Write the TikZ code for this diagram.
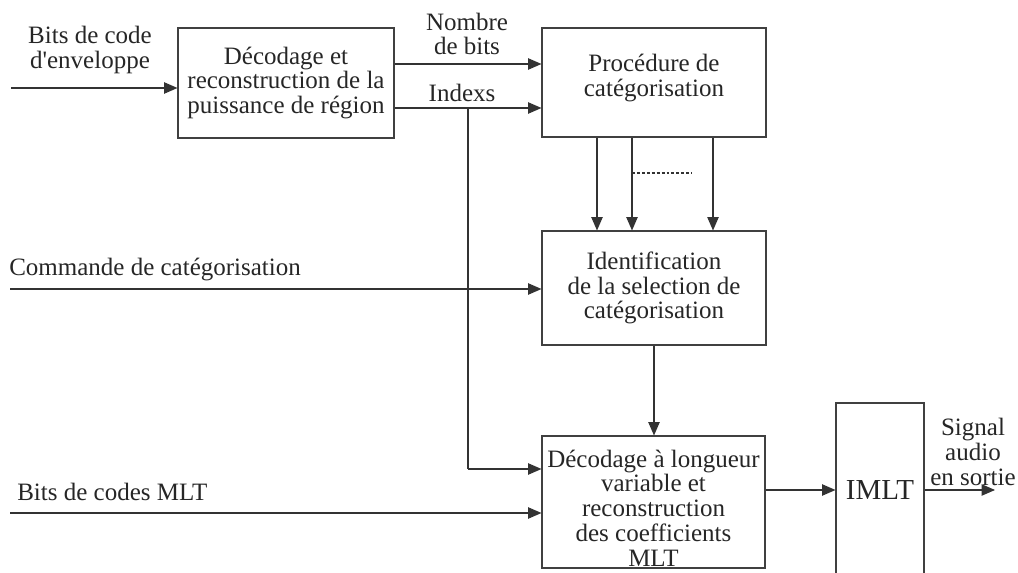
\documentclass[tikz,border=0pt]{standalone}
\usepackage{fontspec}
\setmainfont{Liberation Serif}[Ligatures=TeXOff]
\usetikzlibrary{arrows.meta,calc}
\begin{document}
\begin{tikzpicture}[x=0.75pt,y=-0.75pt,
  every node/.style={font=\fontsize{18.75}{18.6}\selectfont, text=black!85},
  blk/.style={draw=black!75, line width=0.8pt, align=center, inner sep=0pt},
  lbl/.style={align=center, inner sep=0pt},
  wire/.style={draw=black!80, line width=0.8pt},
  arr/.style={wire, -{Triangle[length=10pt,width=8.5pt]}}]
\useasboundingbox (0,0) rectangle (1018,573);
\clip (0,0) rectangle (1018,573);
% blocks
\node[blk, minimum width=162pt, minimum height=82.5pt] (b1) at (286,83) {Décodage et\\reconstruction de la\\puissance de région};
\node[blk, minimum width=168pt, minimum height=81.75pt] (b2) at (654,82.5) {};
\node[lbl] (t2) at (654,78) {Procédure de\\catégorisation};
\node[blk, minimum width=168pt, minimum height=85.5pt] (b3) at (654,288) {Identification\\de la selection de\\catégorisation};
\node[blk, minimum width=167.25pt, minimum height=99pt] (b4) at (653.5,502) {};
\node[lbl] (t4) at (653.5,508) {Décodage à longueur\\variable et\\reconstruction\\des coefficients\\MLT};
\node[blk, minimum width=66pt, minimum height=130.5pt, font=\fontsize{21.75}{22}\selectfont] (b5) at (880,490) {IMLT};
% labels
\node[lbl] (lenv) at (90,50) {Bits de code\\d'enveloppe};
\node[lbl] (lnb) at (467,34) {Nombre\\de bits};
\node[lbl] (lidx) at (462,93) {Indexs};
\node[lbl, anchor=west] (lcmd) at (9,270) {Commande de catégorisation};
\node[lbl, anchor=west] (lmlt) at (17,492) {Bits de codes MLT};
\node[lbl] (lsig) at (973,452) {Signal\\audio\\en sortie};
% free ends
\coordinate (inenv) at (11,88);
\coordinate (incmd) at (10,289);
\coordinate (inmlt) at (10,513);
\coordinate (out) at (995,490);
\coordinate (tap) at (468,108);
\coordinate (turn) at (468,469);
% connectors
\draw[arr] (inenv) -- (inenv -| b1.west);
\draw[arr] (b1.east |- 0,64) -- (b2.west |- 0,64);
\draw[arr] (b1.east |- 0,108) -- (b2.west |- 0,108);
\draw[wire] (tap) -- (turn);
\draw[arr] (turn) -- (turn -| b4.west);
\draw[arr] (b2.south -| 597,0) -- (b3.north -| 597,0);
\draw[arr] (b2.south -| 632,0) -- (b3.north -| 632,0);
\draw[arr] (b2.south -| 713,0) -- (b3.north -| 713,0);
\draw[draw=black!80, line width=0.8pt, dash pattern=on 2.2pt off 1.5pt] (632,173) -- (692,173);
\draw[arr] (incmd) -- (incmd -| b3.west);
\draw[arr] (b3.south -| 654,0) -- (b4.north -| 654,0);
\draw[arr] (inmlt) -- (inmlt -| b4.west);
\draw[arr] (b4.east |- b5.west) -- (b5.west);
\draw[arr] (b5.east) -- (out);
\end{tikzpicture}
\end{document}
